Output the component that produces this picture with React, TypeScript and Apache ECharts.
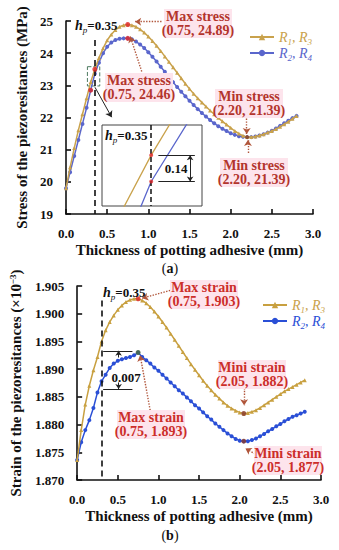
import React, { useEffect, useRef } from 'react';
import * as echarts from 'echarts';

// ---------- data ----------
const thickness = [
  0.0, 0.05, 0.1, 0.15, 0.2, 0.25, 0.3, 0.35, 0.4, 0.45, 0.5, 0.55, 0.6, 0.65, 0.7, 0.75,
  0.8, 0.85, 0.9, 0.95, 1.0, 1.05, 1.1, 1.15, 1.2, 1.25, 1.3, 1.35, 1.4, 1.45, 1.5, 1.55,
  1.6, 1.65, 1.7, 1.75, 1.8, 1.85, 1.9, 1.95, 2.0, 2.05, 2.1, 2.15, 2.2, 2.25, 2.3, 2.35,
  2.4, 2.45, 2.5, 2.55, 2.6, 2.65, 2.7, 2.75, 2.8,
];
const stressR13 = [
  19.8, 20.45, 21.05, 21.6, 22.1, 22.6, 23.1, 23.5, 23.85, 24.15, 24.4, 24.58, 24.72, 24.82, 24.87, 24.89,
  24.87, 24.82, 24.74, 24.64, 24.52, 24.38, 24.23, 24.07, 23.9, 23.73, 23.56, 23.39, 23.22, 23.05, 22.89, 22.74,
  22.6, 22.47, 22.34, 22.22, 22.1, 21.99, 21.88, 21.78, 21.68, 21.58, 21.5, 21.43, 21.39, 21.39, 21.41, 21.44,
  21.48, 21.53, 21.58, 21.64, 21.71, 21.79, 21.87, 21.96, 22.05,
];
const stressR24 = [
  19.8, 20.3, 20.8, 21.3, 21.8, 22.3, 22.85, 23.36, 23.7, 24.0, 24.2, 24.33, 24.41, 24.45, 24.46, 24.46,
  24.43, 24.36, 24.27, 24.16, 24.03, 23.89, 23.74, 23.58, 23.42, 23.26, 23.1, 22.95, 22.8, 22.66, 22.52, 22.39,
  22.26, 22.14, 22.03, 21.92, 21.82, 21.73, 21.65, 21.58, 21.51, 21.46, 21.42, 21.4, 21.39, 21.39, 21.41, 21.44,
  21.48, 21.53, 21.59, 21.66, 21.74, 21.82, 21.9, 21.98, 22.05,
];
const strainR13 = [
  1.8736, 1.879, 1.8836, 1.887, 1.8898, 1.8922, 1.895, 1.897, 1.8985, 1.8997, 1.9007, 1.9015, 1.9021, 1.9025, 1.9027, 1.9027,
  1.9024, 1.9019, 1.9012, 1.9004, 1.8995, 1.8985, 1.8975, 1.8964, 1.8953, 1.8942, 1.8931, 1.892, 1.8909, 1.8899, 1.8889, 1.8879,
  1.887, 1.8862, 1.8854, 1.8847, 1.884, 1.8834, 1.8829, 1.8825, 1.8822, 1.882, 1.8821, 1.8823, 1.8826, 1.883, 1.8835, 1.884,
  1.8845, 1.885, 1.8855, 1.886, 1.8864, 1.8868, 1.8872, 1.8876, 1.888,
];
const strainR24 = [
  1.8736, 1.8768, 1.879, 1.8808, 1.883, 1.8858, 1.8878, 1.889, 1.8902, 1.891, 1.8915, 1.8918, 1.892, 1.8922, 1.8925, 1.893,
  1.8922, 1.8916, 1.891, 1.8903, 1.8897, 1.889, 1.8883, 1.8876, 1.8869, 1.8862, 1.8856, 1.8849, 1.8842, 1.8835, 1.8829, 1.8822,
  1.8815, 1.8809, 1.8802, 1.8796, 1.879, 1.8784, 1.8779, 1.8774, 1.8771, 1.877, 1.877, 1.8772, 1.8775, 1.8779, 1.8783, 1.8788,
  1.8792, 1.8797, 1.8801, 1.8806, 1.881, 1.8814, 1.8817, 1.882, 1.8823,
];
const stressTicks = { min: 19, max: 25, interval: 1 };
const strainTicks = { min: 1.87, max: 1.905, interval: 0.005 };
const xTicks = { min: 0, max: 3, interval: 0.5 };

const IDX_HP = 7; // 0.35 mm
const IDX_PEAK = 15; // 0.75 mm
const IDX_MIN_STRESS = 44; // 2.20 mm
const IDX_MIN_STRAIN = 41; // 2.05 mm

// ---------- styles ----------
const SERIF = '"Liberation Serif", "DejaVu Serif", serif';
const GOLD_A = '#c9a24c';
const BLUE_A = '#5a66cc';
const GOLD_B = '#c8a040';
const BLUE_B = '#2a4fd6';
const RED_A = '#b3352c';
const RED_B = '#cc2e2a';
const PINK = '#fde4ec';
const ARROW = '#b0553a';

const pairs = (ys: number[]) => thickness.map((x, i) => [x, ys[i]]);

const axisCommon = {
  axisLine: { lineStyle: { color: '#111', width: 1.6 } },
  axisTick: { inside: true, length: 5, lineStyle: { color: '#111', width: 1.6 } },
  splitLine: { show: false },
  nameLocation: 'middle' as const,
  nameTextStyle: { fontFamily: SERIF, fontWeight: 'bold', fontSize: 15, color: '#111' },
};
const labelStyle = { fontFamily: SERIF, fontWeight: 'bold', fontSize: 13, color: '#111' };

const legendRich = {
  ig: { fontFamily: SERIF, fontStyle: 'italic', fontSize: 14, color: GOLD_A, lineHeight: 18 },
  sg: { fontFamily: SERIF, fontStyle: 'italic', fontSize: 9, color: GOLD_A, lineHeight: 8, verticalAlign: 'bottom' },
  ib: { fontFamily: SERIF, fontStyle: 'italic', fontSize: 14, color: BLUE_A, lineHeight: 18 },
  sb: { fontFamily: SERIF, fontStyle: 'italic', fontSize: 9, color: BLUE_A, lineHeight: 8, verticalAlign: 'bottom' },
  ibb: { fontFamily: SERIF, fontStyle: 'italic', fontSize: 14, color: BLUE_B, lineHeight: 18 },
  sbb: { fontFamily: SERIF, fontStyle: 'italic', fontSize: 9, color: BLUE_B, lineHeight: 8, verticalAlign: 'bottom' },
};
const legendFmt = (name: string) => {
  if (name === 'a1' || name === 'b1') return '{ig|R}{sg|1}{ig|, R}{sg|3}';
  if (name === 'a2') return '{ib|R}{sb|2}{ib|, R}{sb|4}';
  return '{ibb|R}{sbb|2}{ibb|, R}{sbb|4}';
};

const hpRich = {
  h: { fontFamily: SERIF, fontStyle: 'italic', fontWeight: 'bold', fontSize: 14, fill: '#111', lineHeight: 18 },
  p: { fontFamily: SERIF, fontStyle: 'italic', fontSize: 9, fill: '#111', lineHeight: 8, verticalAlign: 'bottom' },
  v: { fontFamily: SERIF, fontWeight: 'bold', fontSize: 13, fill: '#111', lineHeight: 18 },
};

// annotation box: pink background rect + two separate text lines
const note = (l1: string, l2: string, cx: number, top: number, color: string) => {
  const w = 68;
  const lh = 14;
  const txt = (t: string, y: number) => ({
    type: 'text',
    x: cx,
    y,
    z: 51,
    style: {
      text: t, fill: color, fontFamily: SERIF, fontWeight: 'bold', fontSize: 14,
      align: 'center', verticalAlign: 'middle',
    },
  });
  return [
    { type: 'rect', z: 50, shape: { x: cx - w / 2, y: top, width: w, height: lh * 2 + 1 }, style: { fill: PINK } },
    txt(l1, top + lh / 2 + 0.5),
    txt(l2, top + lh * 1.5 + 0.5),
  ];
};

const arrowLine = (a: number[], b: number[]) => [
  { coord: a, symbol: 'none' },
  { coord: b, symbol: 'arrow' },
];

export default function App() {
  const ref = useRef<HTMLDivElement>(null);
  useEffect(() => {
    if (!ref.current) return;
    const chart = echarts.init(ref.current, undefined, { renderer: 'svg' });
    const option: any = {
      animation: false,
      backgroundColor: '#fff',
      grid: [
        { left: 66, top: 21, width: 247, height: 193 },
        { left: 77, top: 286, width: 244, height: 194 },
        { left: 102, top: 125, width: 100, height: 81, show: true, borderColor: '#444', borderWidth: 1, backgroundColor: '#fff', z: 10 },
      ],
      xAxis: [
        {
          gridIndex: 0, type: 'value', ...xTicks, ...axisCommon,
          axisLabel: { ...labelStyle, margin: 13, formatter: (v: number) => v.toFixed(1) },
          name: 'Thickness of potting adhesive (mm)', nameGap: 28,
        },
        {
          gridIndex: 1, type: 'value', ...xTicks, ...axisCommon,
          axisLabel: { ...labelStyle, margin: 13, formatter: (v: number) => v.toFixed(1) },
          name: 'Thickness of potting adhesive (mm)', nameGap: 28,
        },
        { gridIndex: 2, type: 'value', min: 0.288, max: 0.414, show: false },
      ],
      yAxis: [
        {
          gridIndex: 0, type: 'value', ...stressTicks, ...axisCommon,
          axisLabel: { ...labelStyle, margin: 13, formatter: (v: number) => String(Math.round(v)) },
          name: 'Stress of the piezoresitances (MPa)', nameGap: 31,
        },
        {
          gridIndex: 1, type: 'value', ...strainTicks, ...axisCommon,
          axisLabel: { ...labelStyle, margin: 13, formatter: (v: number) => v.toFixed(3) },
          name: 'Strain of the piezoresitances (×10{sup|−3})', nameGap: 50,
          nameTextStyle: {
            ...axisCommon.nameTextStyle, lineHeight: 16,
            rich: { sup: { fontFamily: SERIF, fontWeight: 'bold', fontSize: 9, lineHeight: 8, verticalAlign: 'top', color: '#111' } },
          },
        },
        { gridIndex: 2, type: 'value', min: 23.23, max: 23.66, show: false },
      ],
      legend: [
        {
          left: 244, top: 25, orient: 'vertical', itemGap: 0, itemWidth: 24, itemHeight: 8,
          data: ['a1', 'a2'], formatter: legendFmt, textStyle: { rich: legendRich },
        },
        {
          left: 257, top: 293, orient: 'vertical', itemGap: 0, itemWidth: 24, itemHeight: 8,
          data: ['b1', 'b2'], formatter: legendFmt, textStyle: { rich: legendRich },
        },
      ],
      series: [
        {
          name: 'a1', type: 'line', xAxisIndex: 0, yAxisIndex: 0, data: pairs(stressR13),
          color: GOLD_A, symbol: 'triangle', symbolSize: 4, lineStyle: { width: 1.5 }, z: 3,
          markLine: {
            silent: true, symbolSize: 6, label: { show: false },
            lineStyle: { color: ARROW, type: 'dotted', width: 1.4 },
            data: [
              arrowLine([1.16, 24.98], [0.84, 24.98]),
              arrowLine([0.92, 23.43], [0.78, 24.52]),
              arrowLine([2.195, 22.14], [2.195, 21.49]),
              arrowLine([2.21, 20.9], [2.21, 21.3]),
              [
                { coord: [0.35, 24.41], symbol: 'none', lineStyle: { color: '#111', type: [6, 4], width: 1.6 } },
                { coord: [0.35, 19], symbol: 'none' },
              ],
              [
                { coord: [0.352, 22.94], symbol: 'none', lineStyle: { color: '#222', type: 'solid', width: 1 } },
                { coord: [0.555, 22.01], symbol: 'arrow' },
              ],
            ],
          },
          markArea: {
            silent: true,
            itemStyle: { color: 'rgba(0,0,0,0)', borderColor: '#4d7a60', borderWidth: 1, borderType: 'dashed' },
            data: [[{ coord: [0.26, 23.58] }, { coord: [0.41, 22.98] }]],
          },
        },
        {
          name: 'a2', type: 'line', xAxisIndex: 0, yAxisIndex: 0, data: pairs(stressR24),
          color: BLUE_A, symbol: 'circle', symbolSize: 4, lineStyle: { width: 1.5 }, z: 2,
        },
        {
          name: 'aDots', type: 'scatter', xAxisIndex: 0, yAxisIndex: 0, symbolSize: 5, color: '#e0282a', z: 5,
          data: [
            [thickness[IDX_PEAK], stressR13[IDX_PEAK]],
            [thickness[IDX_PEAK], stressR24[IDX_PEAK]],
            [thickness[IDX_HP], stressR13[IDX_HP]],
            [thickness[IDX_HP - 1], stressR24[IDX_HP - 1]],
          ],
        },
        {
          name: 'aMin', type: 'scatter', xAxisIndex: 0, yAxisIndex: 0, symbolSize: 4, z: 5, color: '#7a3a2a',
          data: [[thickness[IDX_MIN_STRESS], stressR13[IDX_MIN_STRESS]]],
        },
        // inset
        {
          name: 'ia1', type: 'line', xAxisIndex: 2, yAxisIndex: 2, data: pairs(stressR13),
          color: GOLD_A, showSymbol: false, lineStyle: { width: 1.3 }, clip: true, z: 12,
          markLine: {
            silent: true, symbolSize: 5, label: { show: false }, z: 14,
            lineStyle: { color: '#222', type: 'solid', width: 1 },
            data: [
              [
                { coord: [0.35, 23.66], symbol: 'none', lineStyle: { color: '#111', type: [5, 3], width: 1.5 } },
                { coord: [0.35, 23.23], symbol: 'none' },
              ],
              [{ coord: [0.359, stressR13[IDX_HP]], symbol: 'none' }, { coord: [0.405, stressR13[IDX_HP]], symbol: 'none' }],
              [{ coord: [0.359, stressR24[IDX_HP]], symbol: 'none' }, { coord: [0.405, stressR24[IDX_HP]], symbol: 'none' }],
              [{ coord: [0.399, stressR13[IDX_HP]], symbol: 'arrow' }, { coord: [0.399, stressR24[IDX_HP]], symbol: 'arrow' }],
            ],
          },
        },
        {
          name: 'ia2', type: 'line', xAxisIndex: 2, yAxisIndex: 2, data: pairs(stressR24),
          color: BLUE_A, showSymbol: false, lineStyle: { width: 1.3 }, clip: true, z: 12,
        },
        {
          name: 'iDots', type: 'scatter', xAxisIndex: 2, yAxisIndex: 2, symbolSize: 4, color: '#e0282a', z: 15,
          data: [
            [thickness[IDX_HP], stressR13[IDX_HP]],
            [thickness[IDX_HP], stressR24[IDX_HP]],
          ],
        },
        // chart b
        {
          name: 'b1', type: 'line', xAxisIndex: 1, yAxisIndex: 1, data: pairs(strainR13),
          color: GOLD_B, symbol: 'triangle', symbolSize: 4, lineStyle: { width: 1.5 }, z: 3,
          markLine: {
            silent: true, symbolSize: 6, label: { show: false },
            lineStyle: { color: ARROW, type: 'dotted', width: 1.4 },
            data: [
              arrowLine([1.144, 1.9042], [0.8, 1.9028]),
              arrowLine([0.898, 1.8826], [0.775, 1.8925]),
              arrowLine([2.054, 1.8866], [2.054, 1.8835]),
              arrowLine([2.19, 1.8747], [2.07, 1.8757]),
              [
                { coord: [0.3, 1.9024], symbol: 'none', lineStyle: { color: '#111', type: [6, 4], width: 1.6 } },
                { coord: [0.3, 1.87], symbol: 'none' },
              ],
              [
                { coord: [0.32, 1.8933], symbol: 'none', lineStyle: { color: '#222', type: 'solid', width: 1 } },
                { coord: [0.68, 1.8933], symbol: 'none' },
              ],
              [
                { coord: [0.32, 1.8864], symbol: 'none', lineStyle: { color: '#222', type: 'solid', width: 1 } },
                { coord: [0.68, 1.8864], symbol: 'none' },
              ],
              [
                { coord: [0.51, 1.8921], symbol: 'none', lineStyle: { color: '#222', type: 'solid', width: 1 } },
                { coord: [0.51, 1.8933], symbol: 'arrow', symbolSize: 5 },
              ],
              [
                { coord: [0.51, 1.8876], symbol: 'none', lineStyle: { color: '#222', type: 'solid', width: 1 } },
                { coord: [0.51, 1.8864], symbol: 'arrow', symbolSize: 5 },
              ],
            ],
          },
        },
        {
          name: 'b2', type: 'line', xAxisIndex: 1, yAxisIndex: 1, data: pairs(strainR24),
          color: BLUE_B, symbol: 'circle', symbolSize: 4, lineStyle: { width: 1.5 }, z: 2,
        },
        {
          name: 'bDots', type: 'scatter', xAxisIndex: 1, yAxisIndex: 1, symbolSize: 5, z: 5,
          data: [
            { value: [thickness[IDX_PEAK], strainR13[IDX_PEAK]], itemStyle: { color: '#e0282a' } },
            { value: [thickness[IDX_PEAK], strainR24[IDX_PEAK]], itemStyle: { color: '#4a6a3a' } },
            { value: [thickness[IDX_MIN_STRAIN], strainR13[IDX_MIN_STRAIN]], itemStyle: { color: '#8a3a2a' } },
            { value: [thickness[IDX_MIN_STRAIN], strainR24[IDX_MIN_STRAIN]], itemStyle: { color: '#8a3a2a' } },
          ],
        },
      ],
      graphic: [
        ...note('Max stress', '(0.75, 24.89)', 198, 9, RED_A),
        ...note('Max stress', '(0.75, 24.46)', 139, 73, RED_A),
        ...note('Min stress', '(2.20, 21.39)', 249, 89, RED_A),
        ...note('Min stress', '(2.20, 21.39)', 254, 158, RED_A),
        ...note('Max strain', '(0.75, 1.903)', 204, 280, RED_B),
        ...note('Max strain', '(0.75, 1.893)', 151, 410, RED_B),
        ...note('Mini strain', '(2.05, 1.882)', 252, 360, RED_B),
        ...note('Mini strain', '(2.05, 1.877)', 288, 446, RED_B),
        { type: 'text', x: 75, y: 25, z: 50, style: { text: '{h|h}{p|p}{v|=0.35}', rich: hpRich, verticalAlign: 'middle' } },
        { type: 'text', x: 105, y: 135, z: 50, style: { text: '{h|h}{p|p}{v|=0.35}', rich: hpRich, verticalAlign: 'middle' } },
        { type: 'text', x: 103, y: 292, z: 50, style: { text: '{h|h}{p|p}{v|=0.35}', rich: hpRich, verticalAlign: 'middle' } },
        {
          type: 'text', x: 176, y: 168, z: 50,
          style: { text: '0.14', fontFamily: SERIF, fontWeight: 'bold', fontSize: 13, fill: '#111', align: 'center', verticalAlign: 'middle' },
        },
        {
          type: 'text', x: 126, y: 377, z: 50,
          style: { text: '0.007', fontFamily: SERIF, fontWeight: 'bold', fontSize: 13, fill: '#111', align: 'center', verticalAlign: 'middle' },
        },
        {
          type: 'text', x: 170, y: 268, z: 50,
          style: {
            text: '({b|a})', fontFamily: SERIF, fontSize: 14, fill: '#111', align: 'center', verticalAlign: 'middle',
            rich: { b: { fontFamily: SERIF, fontWeight: 'bold', fontSize: 14, fill: '#111' } },
          },
        },
        {
          type: 'text', x: 170, y: 535, z: 50,
          style: {
            text: '({b|b})', fontFamily: SERIF, fontSize: 14, fill: '#111', align: 'center', verticalAlign: 'middle',
            rich: { b: { fontFamily: SERIF, fontWeight: 'bold', fontSize: 14, fill: '#111' } },
          },
        },
      ],
    };
    chart.setOption(option);
    return () => chart.dispose();
  }, []);
  return (
    <div
      ref={ref}
      style={{ position: 'absolute', left: 0, top: 0, width: 339, height: 550, background: '#fff' }}
    />
  );
}
